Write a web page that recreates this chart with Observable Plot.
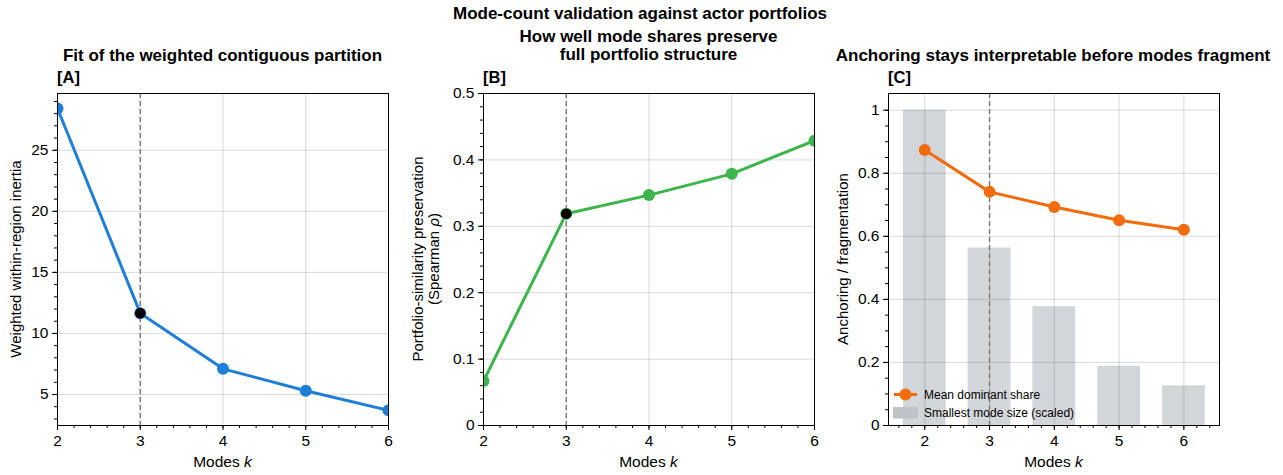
<!DOCTYPE html>
<html>
<head>
<meta charset="utf-8">
<script src="https://cdn.jsdelivr.net/npm/d3@7"></script>
<script src="https://cdn.jsdelivr.net/npm/@observablehq/plot@0.6"></script>
<style>
  html, body { margin: 0; padding: 0; background: #fff; }
  body { font-family: "Liberation Sans", Arial, Helvetica, sans-serif; color: #000; }
  #wrap { position: relative; width: 1283px; height: 475px; overflow: hidden; }
  .panel { position: absolute; top: 0; }
  .t { position: absolute; white-space: nowrap; line-height: 1; transform: translate(-50%, -50%); }
  .bold { font-weight: bold; }
  .rot { transform: translate(-50%, -50%) rotate(-90deg); text-align: center; }
  .lab { position: absolute; white-space: nowrap; line-height: 1; font-weight: bold; font-size: 16.5px; transform: translateY(-50%); }
  .leg { position: absolute; font-size: 12px; white-space: nowrap; line-height: 1; transform: translateY(-50%); }
</style>
</head>
<body>
<div id="wrap"></div>
<script>
// ---- data ----
const modesK = [2, 3, 4, 5, 6];
const inertia = [28.42, 11.66, 7.10, 5.31, 3.70];
const spearman = [0.067, 0.319, 0.347, 0.379, 0.429];
const dominantShare = [0.874, 0.741, 0.693, 0.651, 0.621];
const smallestMode = [1.0, 0.563, 0.377, 0.188, 0.126];
const chosenK = 3;

const titles = {
  main: "Mode-count validation against actor portfolios",
  A: "Fit of the weighted contiguous partition",
  B: ["How well mode shares preserve", "full portfolio structure"],
  C: "Anchoring stays interpretable before modes fragment"
};
const yLabels = {
  A: "Weighted within-region inertia",
  B: ["Portfolio-similarity preservation", "(Spearman <i>ρ</i>)"],
  C: "Anchoring / fragmentation"
};
const legendLabels = ["Mean dominant share", "Smallest mode size (scaled)"];

const blue = "#1f7fd8", green = "#3cb54b", orange = "#f46b0c", barGrey = "#d3d6d9";

const rows = (vals) => modesK.map((k, i) => ({k, v: vals[i]}));
const dataA = rows(inertia), dataB = rows(spearman), dataC = rows(dominantShare), barsC = rows(smallestMode);
const hl = (d) => d.filter(r => r.k === chosenK);
const fmt = (x) => String(+x.toFixed(3));

const wrap = document.getElementById("wrap");
const TICK_FS = 15.5;

function panel({left, width, ml, mr, xDomain, yDomain, xTicks, xMinor, yTicks, yMinor, marks, pre = []}) {
  const svg = Plot.plot({
    width, height: 475, marginTop: 93, marginBottom: 50, marginLeft: ml, marginRight: mr,
    style: {fontFamily: '"Liberation Sans", Arial, sans-serif', fontSize: TICK_FS + "px", color: "#000", background: "transparent", overflow: "visible"},
    x: {domain: xDomain},
    y: {domain: yDomain},
    marks: [
      ...pre,
      Plot.gridX(xTicks, {stroke: "#000", strokeOpacity: 0.15, strokeWidth: 1}),
      Plot.gridY(yTicks, {stroke: "#000", strokeOpacity: 0.15, strokeWidth: 1}),
      Plot.ruleX([chosenK], {stroke: "#777", strokeWidth: 1.4, strokeDasharray: "5,3"}),
      ...marks,
      Plot.frame({stroke: "#000", strokeWidth: 1}),
      Plot.axisX(xMinor, {tickSize: 3, tickFormat: () => "", label: null}),
      Plot.axisX(xTicks, {tickSize: 5, tickPadding: 4, tickFormat: fmt, fontSize: TICK_FS, label: null}),
      Plot.axisY(yMinor, {tickSize: 3, tickFormat: () => "", label: null}),
      Plot.axisY(yTicks, {tickSize: 5, tickPadding: 4, tickFormat: fmt, fontSize: TICK_FS, label: null})
    ]
  });
  svg.classList.add("panel");
  svg.style.left = left + "px";
  wrap.appendChild(svg);
}

// Panel A
panel({
  left: 0, width: 400, ml: 57, mr: 12,
  xDomain: [2, 6], yDomain: [2.46, 29.65],
  xTicks: [2, 3, 4, 5, 6], xMinor: d3.range(2, 6.001, 0.2),
  yTicks: [5, 10, 15, 20, 25], yMinor: d3.range(3, 30, 1),
  marks: [
    Plot.line(dataA, {x: "k", y: "v", stroke: blue, strokeWidth: 3, clip: true}),
    Plot.dot(dataA, {x: "k", y: "v", r: 6, fill: blue, clip: true}),
    Plot.dot(hl(dataA), {x: "k", y: "v", r: 5.3, fill: "#000", clip: true})
  ]
});

// Panel B
panel({
  left: 400, width: 430, ml: 83, mr: 16,
  xDomain: [2, 6], yDomain: [0, 0.5],
  xTicks: [2, 3, 4, 5, 6], xMinor: d3.range(2, 6.001, 0.2),
  yTicks: [0, 0.1, 0.2, 0.3, 0.4, 0.5], yMinor: d3.range(0, 0.501, 0.02),
  marks: [
    Plot.line(dataB, {x: "k", y: "v", stroke: green, strokeWidth: 3, clip: true}),
    Plot.dot(dataB, {x: "k", y: "v", r: 6, fill: green, clip: true}),
    Plot.dot(hl(dataB), {x: "k", y: "v", r: 5.3, fill: "#000", clip: true})
  ]
});

// Panel C
panel({
  left: 830, width: 453, ml: 58, mr: 64,
  xDomain: [1.44, 6.55], yDomain: [0, 1.053],
  xTicks: [2, 3, 4, 5, 6], xMinor: d3.range(1.6, 6.55, 0.2),
  yTicks: [0, 0.2, 0.4, 0.6, 0.8, 1], yMinor: d3.range(0, 1.05, 0.05),
  pre: [
    Plot.rectY(barsC, {x1: d => d.k - 0.33, x2: d => d.k + 0.33, y1: 0, y2: "v", fill: barGrey})
  ],
  marks: [
    Plot.line(dataC, {x: "k", y: "v", stroke: orange, strokeWidth: 3}),
    Plot.dot(dataC, {x: "k", y: "v", r: 6, fill: orange})
  ]
});

// ---- text overlays ----
function addText(html, x, y, cls, size, extra = "") {
  const d = document.createElement("div");
  d.className = "t " + cls;
  d.style.left = x + "px";
  d.style.top = y + "px";
  d.style.fontSize = size + "px";
  if (extra) d.style.cssText += extra;
  d.innerHTML = html;
  wrap.appendChild(d);
  return d;
}
addText(titles.main, 640, 13, "bold", 17);
addText(titles.A, 222.5, 55, "bold", 17);
addText(titles.B[0] + "<br>" + titles.B[1], 648.5, 46, "bold", 17, "text-align:center;line-height:18px;");
addText(titles.C, 1053, 55, "bold", 17);

function panelLabel(txt, x) {
  const d = document.createElement("div");
  d.className = "lab";
  d.style.left = x + "px";
  d.style.top = "77px";
  d.textContent = txt;
  wrap.appendChild(d);
}
panelLabel("[A]", 57);
panelLabel("[B]", 483);
panelLabel("[C]", 888);

addText("Modes <i>k</i>", 222.5, 462, "", 15.5);
addText("Modes <i>k</i>", 648.5, 462, "", 15.5);
addText("Modes <i>k</i>", 1053.5, 462, "", 15.5);

addText(yLabels.A, 15, 259, "rot", 15);
addText(yLabels.B[0] + "<br>" + yLabels.B[1], 426, 259, "rot", 15, "line-height:16px;");
addText(yLabels.C, 842, 259, "rot", 15);

// legend for panel C
const leg = document.createElement("div");
leg.style.cssText = "position:absolute;left:893px;top:386px;width:26px;height:36px;";
leg.innerHTML = `<svg width="26" height="36" style="overflow:visible">
  <line x1="1" x2="24" y1="8.5" y2="8.5" stroke="${orange}" stroke-width="3"/>
  <circle cx="12.5" cy="8.5" r="6" fill="${orange}"/>
  <rect x="0" y="21" width="25" height="11.5" fill="#bfc3c6"/>
</svg>`;
wrap.appendChild(leg);
[[legendLabels[0], 394.5], [legendLabels[1], 412.5]].forEach(([txt, y]) => {
  const d = document.createElement("div");
  d.className = "leg";
  d.style.left = "924px";
  d.style.top = y + "px";
  d.textContent = txt;
  wrap.appendChild(d);
});
</script>
</body>
</html>
